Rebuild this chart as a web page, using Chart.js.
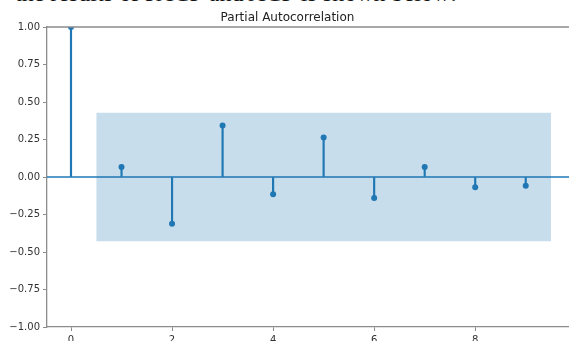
<!DOCTYPE html>
<html>
<head>
<meta charset="utf-8">
<script src="https://cdn.jsdelivr.net/npm/chart.js"></script>
<style>
  html, body { margin: 0; padding: 0; background: #fff; overflow: hidden; }
  #wrap { position: relative; width: 569px; height: 341px; overflow: hidden; }
  #cut { position: absolute; left: 15px; top: -19px; font: 24px "Liberation Serif", serif; line-height: 24px; color: #111; white-space: nowrap; }
  #box { position: absolute; left: 0; top: 0; width: 580px; height: 341px; }
</style>
</head>
<body>
<div id="wrap">
  <div id="cut">the results of PACF and ACF is shown below:</div>
  <div id="box"><canvas id="myChart" width="580" height="341"></canvas></div>
</div>
<script>
// lags and partial autocorrelation values
const lags = [0, 1, 2, 3, 4, 5, 6, 7, 8, 9];
const pacf = [1.0, 0.067, -0.311, 0.343, -0.115, 0.263, -0.14, 0.067, -0.069, -0.058];
const confBand = 0.428;          // +/- confidence interval
const bandLags = [0.5, 9.5];
const xTicks = [0, 2, 4, 6, 8];
const yTicks = [-1, -0.75, -0.5, -0.25, 0, 0.25, 0.5, 0.75, 1];
const xRange = [-0.475, 9.975];

const blue = '#1f77b4';
const spine = '#8c8c8c';

const stems = lags.map((l, i) => ({ x: l, y: pacf[i] }));

// top and right spines, matplotlib style
const framePlugin = {
  id: 'frame',
  afterDraw(chart) {
    const a = chart.chartArea, c = chart.ctx;
    c.save();
    c.strokeStyle = spine;
    c.lineWidth = 1.3;
    c.beginPath();
    c.moveTo(a.left, a.top); c.lineTo(a.right, a.top); c.lineTo(a.right, a.bottom);
    c.stroke();
    c.restore();
  }
};

new Chart(document.getElementById('myChart'), {
  type: 'bar',
  data: {
    datasets: [
      {
        type: 'scatter', label: 'markers', data: stems, order: 0,
        pointRadius: 3, pointBackgroundColor: blue, pointBorderWidth: 0, showLine: false
      },
      {
        type: 'bar', label: 'stems', data: stems, order: 1,
        backgroundColor: blue, barThickness: 1.5, borderWidth: 0
      },
      {
        type: 'line', label: 'zero', order: 2,
        data: [{ x: xRange[0], y: 0 }, { x: xRange[1], y: 0 }],
        borderColor: blue, borderWidth: 1.5, pointRadius: 0
      },
      {
        type: 'line', label: 'upper', order: 3,
        data: bandLags.map(x => ({ x: x, y: confBand })),
        borderColor: 'rgba(0,0,0,0)', borderWidth: 0, pointRadius: 0,
        fill: '+1', backgroundColor: 'rgba(31,119,180,0.25)'
      },
      {
        type: 'line', label: 'lower', order: 4,
        data: bandLags.map(x => ({ x: x, y: -confBand })),
        borderColor: 'rgba(0,0,0,0)', borderWidth: 0, pointRadius: 0
      }
    ]
  },
  options: {
    responsive: false,
    animation: false,
    devicePixelRatio: 1,
    layout: { padding: { left: 0, right: 5, top: 0, bottom: 0 } },
    plugins: {
      legend: { display: false },
      tooltip: { enabled: false },
      title: {
        display: true,
        text: 'Partial Autocorrelation',
        color: '#222',
        font: { family: 'DejaVu Sans', size: 12, weight: 'normal' },
        padding: { top: 11, bottom: 1.6 }
      }
    },
    scales: {
      x: {
        type: 'linear',
        offset: false,
        min: xRange[0], max: xRange[1],
        afterBuildTicks: s => { s.ticks = xTicks.map(v => ({ value: v })); },
        afterFit: s => { s.height = 14; },
        grid: { offset: false, drawOnChartArea: false, drawTicks: true, tickLength: 4, color: spine },
        border: { display: true, color: spine, width: 1.3 },
        ticks: { color: '#333', padding: 3, maxRotation: 0, font: { family: 'DejaVu Sans', size: 10 } }
      },
      y: {
        min: -1, max: 1,
        afterBuildTicks: s => { s.ticks = yTicks.map(v => ({ value: v })); },
        afterFit: s => { s.width = 47; },
        grid: { drawOnChartArea: false, drawTicks: true, tickLength: 4, color: spine },
        border: { display: true, color: spine, width: 1.3 },
        ticks: {
          color: '#333', padding: 3, font: { family: 'DejaVu Sans', size: 10 },
          callback: v => v.toFixed(2).replace('-', '\u2212')
        }
      }
    }
  },
  plugins: [framePlugin]
});
</script>
</body>
</html>
